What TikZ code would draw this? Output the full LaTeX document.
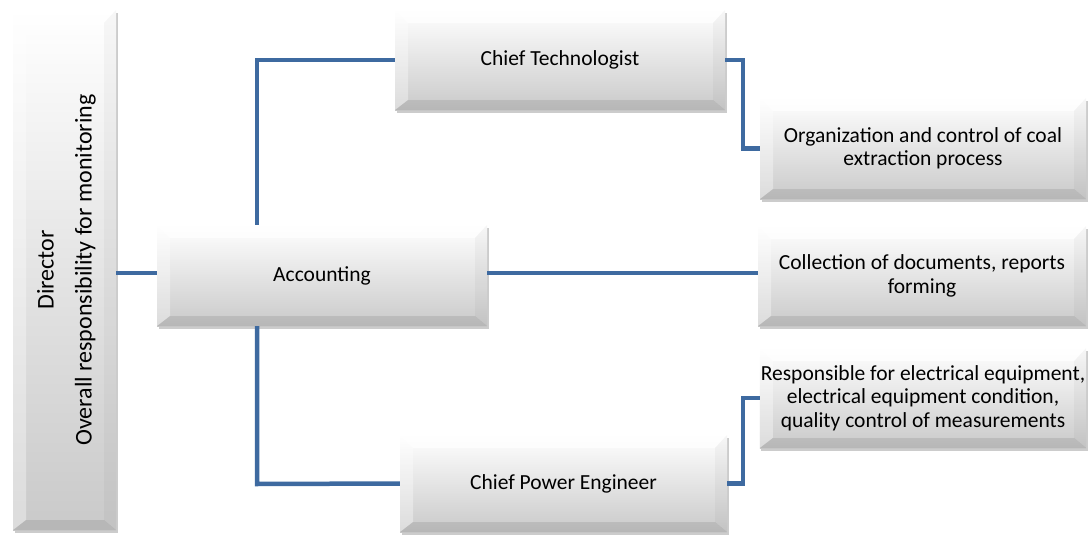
\documentclass[tikz,border=0pt]{standalone}
\usepackage{fontspec}
\setmainfont{Carlito}
\usetikzlibrary{calc,shadows}
\definecolor{linkblue}{RGB}{62,106,160}
\begin{document}
\begin{tikzpicture}[x=1pt,y=-1pt,
  bevelbox/.style={rectangle, inner sep=1pt, align=center,
    font=\fontsize{21.5}{23.5}\selectfont,
    top color=white, bottom color=gray!42, draw=none,
    drop shadow={shadow xshift=1.5pt, shadow yshift=-3pt, opacity=0.2, fill=black},
    path picture={
      \coordinate (pa) at (path picture bounding box.north west);
      \coordinate (pb) at (path picture bounding box.north east);
      \coordinate (pc) at (path picture bounding box.south east);
      \coordinate (pd) at (path picture bounding box.south west);
      \coordinate (qa) at ($(pa)+(13pt,-13pt)$);
      \coordinate (qb) at ($(pb)+(-12pt,-13pt)$);
      \coordinate (qc) at ($(pc)+(-12pt,10pt)$);
      \coordinate (qd) at ($(pd)+(13pt,10pt)$);
      % top, left, right and bottom facets of the bevel
      \fill[white, opacity=0.75] (pa) -- (pb) -- (qb) -- (qa) -- cycle;
      \fill[white, opacity=0.35] (pa) -- (qa) -- (qd) -- (pd) -- cycle;
      \fill[black, opacity=0.03] (pb) -- (pc) -- (qc) -- (qb) -- cycle;
      \fill[black, opacity=0.09] (pd) -- (qd) -- (qc) -- (pc) -- cycle;
    }},
  link/.style={draw=linkblue, line width=4.5pt}
]
\useasboundingbox (0,0) rectangle (1088,538);

% boxes
\node[bevelbox, minimum width=103pt, minimum height=520pt,
      font=\fontsize{24}{26}\selectfont] (dir) at (64.5,270)
  {\hspace*{6pt}\rotatebox{90}{\begin{tabular}{@{}c@{}}Director\\[12pt]Overall responsibility for monitoring\end{tabular}}};
\node[bevelbox, minimum width=330pt, minimum height=101pt] (acc) at (322,275.5) {Accounting};
\node[bevelbox, minimum width=330pt, minimum height=100pt] (ct) at (560,60) {Chief Technologist};
\node[bevelbox, minimum width=327pt, minimum height=97pt] (cpe) at (563.5,483.5) {Chief Power Engineer};
\node[bevelbox, minimum width=326pt, minimum height=101pt] (org) at (923,148.5)
  {Organization and control of coal\\extraction process};
\node[bevelbox, minimum width=328pt, minimum height=100pt] (col) at (922,276)
  {Collection of documents, reports\\forming};
\node[bevelbox, minimum width=326pt, minimum height=100pt] (resp) at (923,398)
  {Responsible for electrical equipment,\\electrical equipment condition,\\quality control of measurements};

% connectors
\coordinate (jt) at (257,60);
\coordinate (jp) at (257,484);
\draw[link] (dir.east |- 0,273) -- (acc.west |- 0,273);
\draw[link] (acc.north -| jt) -- (jt) -- (ct.west);
\draw[link] (acc.south -| jp) -- (jp) -- (cpe.west);
\draw[link] (acc.east |- 0,273) -- (col.west |- 0,273);
\draw[link] (ct.east) -- ++(18,0) |- (org.west);
\draw[link] (cpe.east) -- ++(16,0) |- (resp.west);
\end{tikzpicture}
\end{document}
